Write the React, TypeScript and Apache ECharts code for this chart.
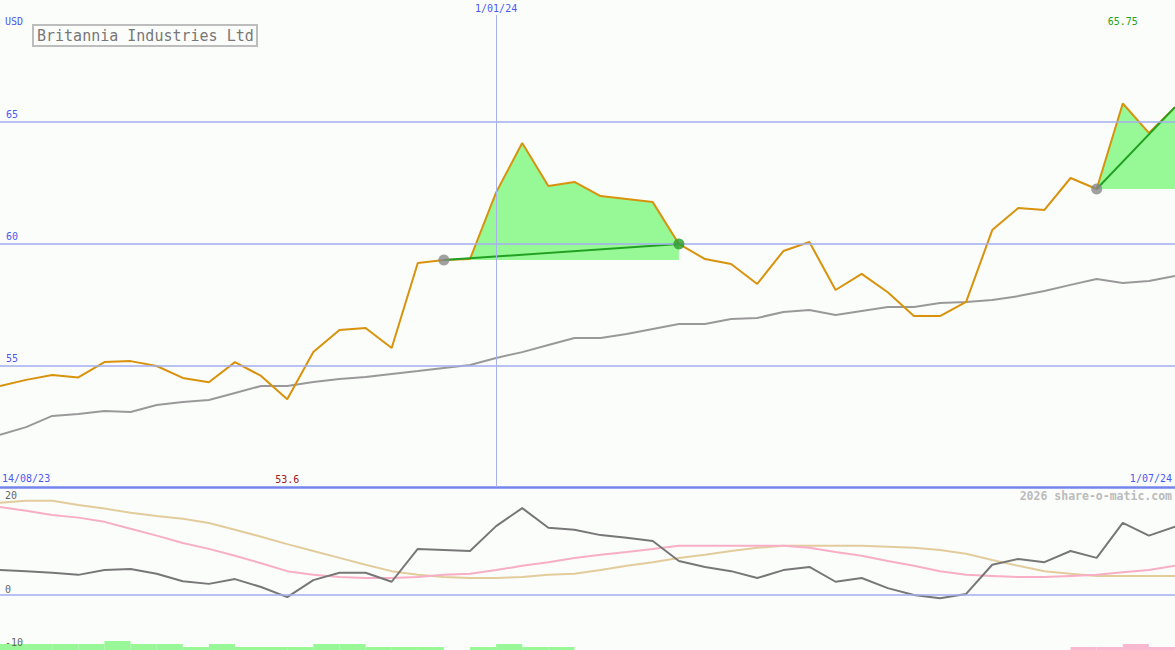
import React, { useEffect, useRef } from "react";
import * as echarts from "echarts";

const dates = [
  "21/08/23", "28/08/23", "4/09/23", "11/09/23", "18/09/23", "25/09/23", "2/10/23", "9/10/23",
  "16/10/23", "23/10/23", "30/10/23", "6/11/23", "13/11/23", "20/11/23", "27/11/23", "4/12/23",
  "11/12/23", "18/12/23", "25/12/23", "1/01/24", "8/01/24", "15/01/24", "22/01/24", "29/01/24",
  "5/02/24", "12/02/24", "19/02/24", "26/02/24", "4/03/24", "11/03/24", "18/03/24", "25/03/24",
  "1/04/24", "8/04/24", "15/04/24", "22/04/24", "29/04/24", "6/05/24", "13/05/24", "20/05/24",
  "27/05/24", "3/06/24", "10/06/24", "17/06/24", "24/06/24", "1/07/24",
];

const price = [
  54.15, 54.4, 54.6, 54.5, 55.13, 55.17, 54.97, 54.48, 54.3, 55.13, 54.56, 53.6, 55.54, 56.45, 56.53, 55.71,
  59.2, 59.32, 59.36, 62.1, 64.13, 62.36, 62.53, 61.95, 61.83, 61.7, 59.98, 59.36, 59.16, 58.34, 59.69, 60.06,
  58.09, 58.75, 58.0, 57.02, 57.02, 57.6, 60.55, 61.46, 61.38, 62.69, 62.24, 65.75, 64.54, 65.6,
];

const priceMA = [
  52.14, 52.46, 52.92, 53.0, 53.12, 53.08, 53.37, 53.49, 53.57, 53.86, 54.15, 54.15, 54.31, 54.44, 54.52, 54.64,
  54.76, 54.89, 55.01, 55.3, 55.54, 55.83, 56.12, 56.12, 56.28, 56.49, 56.69, 56.69, 56.9, 56.94, 57.19, 57.27,
  57.06, 57.23, 57.39, 57.39, 57.56, 57.6, 57.68, 57.84, 58.05, 58.3, 58.54, 58.38, 58.46, 58.67,
];

const oscGray = [
  4.7, 4.5, 4.2, 3.8, 4.7, 4.9, 4.0, 2.6, 2.1, 3.0, 1.5, -0.4, 2.8, 4.2, 4.2, 2.5,
  8.7, 8.5, 8.3, 13.0, 16.4, 12.7, 12.3, 11.3, 10.8, 10.2, 6.4, 5.3, 4.5, 3.2, 4.7, 5.3,
  2.5, 3.2, 1.3, 0.0, -0.6, 0.2, 5.7, 6.8, 6.2, 8.3, 7.0, 13.6, 11.2, 12.9,
];

const oscPink = [
  16.6, 15.9, 15.1, 14.6, 13.8, 12.5, 11.2, 9.8, 8.7, 7.4, 6.0, 4.5, 3.8, 3.4, 3.2, 3.2,
  3.4, 3.8, 4.0, 4.7, 5.5, 6.2, 7.0, 7.6, 8.1, 8.7, 9.3, 9.3, 9.3, 9.3, 9.3, 8.9,
  8.1, 7.4, 6.4, 5.5, 4.5, 3.8, 3.6, 3.4, 3.4, 3.6, 3.8, 4.3, 4.7, 5.5,
];

const oscTan = [
  17.4, 17.8, 17.8, 17.0, 16.3, 15.5, 14.9, 14.4, 13.6, 12.3, 11.0, 9.6, 8.3, 7.0, 5.7, 4.5,
  3.8, 3.4, 3.2, 3.2, 3.4, 3.8, 4.0, 4.7, 5.5, 6.2, 7.0, 7.6, 8.3, 8.9, 9.3, 9.3,
  9.3, 9.3, 9.1, 8.9, 8.5, 7.8, 6.6, 5.5, 4.5, 4.0, 3.6, 3.6, 3.6, 3.6,
];

// one bar per week interval (45 bands)
const barGreen = [
  2, 2, 2, 2, 3, 2, 2, 1, 2, 1, 1, 1, 2, 2, 1, 1, 1, null, 1, 2, 1, 1,
  null, null, null, null, null, null, null, null, null, null, null, null, null, null, null, null,
  null, null, null, null, null, null, null,
];
const barPink = [
  null, null, null, null, null, null, null, null, null, null, null, null, null, null, null, null,
  null, null, null, null, null, null, null, null, null, null, null, null, null, null, null, null,
  null, null, null, null, null, null, null, null, null, 1, 1, 2, 1,
];

const trades = [
  { from: 17, to: 26, closed: true },
  { from: 42, to: 45, closed: false },
];

const mainGridValues = [55, 60, 65];
const lowerLabelValues = [0, -10];
const yearMarkIndex = 19;

const FONT = "DejaVu Sans Mono";
const BLUE_TXT = "#4a5af0";
const GRID_BLUE = "#a3adf0";

export default function App() {
  const ref = useRef<HTMLDivElement>(null);

  useEffect(() => {
    if (!ref.current) return;
    const chart = echarts.init(ref.current, undefined, { renderer: "svg" });

    const n = price.length;
    const minIdx = price.indexOf(Math.min(...price));
    const maxIdx = price.indexOf(Math.max(...price));

    const tradeSeries: any[] = [];
    trades.forEach((t, k) => {
      const base = price[t.from];
      const baseData = price.map((_, i) => (i >= t.from && i <= t.to ? base : null));
      const diffData = price.map((p, i) => (i >= t.from && i <= t.to ? Math.max(p - base, 0) : null));
      tradeSeries.push({
        type: "line",
        xAxisIndex: 0,
        yAxisIndex: 0,
        stack: "trade" + k,
        data: baseData,
        symbol: "none",
        lineStyle: { width: 0, opacity: 0 },
        silent: true,
      });
      tradeSeries.push({
        type: "line",
        xAxisIndex: 0,
        yAxisIndex: 0,
        stack: "trade" + k,
        data: diffData,
        symbol: "none",
        lineStyle: { width: 0, opacity: 0 },
        areaStyle: { color: "#96f996", opacity: 1 },
        silent: true,
      });
    });

    const trendSeries = trades.map((t) => ({
      type: "line",
      xAxisIndex: 0,
      yAxisIndex: 0,
      data: price.map((p, i) => (i === t.from || i === t.to ? p : null)),
      connectNulls: true,
      symbol: "none",
      lineStyle: { color: "#22a022", width: 2 },
      z: 4,
    }));

    const option: any = {
      animation: false,
      backgroundColor: "#fbfdfb",
      title: {
        text: "Britannia Industries Ltd",
        left: 33,
        top: 25,
        padding: [3, 4, 3, 4],
        borderColor: "#bdbdbd",
        borderWidth: 2,
        textStyle: { fontFamily: FONT, fontSize: 15, fontWeight: "normal", color: "#777" },
      },
      grid: [
        { left: 0, right: 0, top: 0, height: 487 },
        { left: 0, right: 0, top: 489, height: 159 },
        { left: 0, right: 0, top: 638, height: 12 },
      ],
      xAxis: [
        { type: "category", gridIndex: 0, data: dates, boundaryGap: false, show: false },
        { type: "category", gridIndex: 1, data: dates, boundaryGap: false, show: false },
        { type: "category", gridIndex: 2, data: dates.slice(0, n - 1), boundaryGap: true, show: false },
      ],
      yAxis: [
        {
          type: "value",
          gridIndex: 0,
          min: 50,
          max: 70,
          interval: 5,
          axisLine: { show: false },
          axisTick: { show: false },
          splitLine: { show: false },
          axisLabel: {
            inside: true,
            margin: 6,
            verticalAlign: "bottom",
            padding: [0, 0, 2, 0],
            color: BLUE_TXT,
            fontFamily: FONT,
            fontSize: 10,
            formatter: (v: number) => (mainGridValues.includes(v) ? String(v) : ""),
          },
        },
        {
          type: "value",
          gridIndex: 1,
          min: -10,
          max: 20,
          interval: 10,
          z: 10,
          axisLine: { show: false },
          axisTick: { show: false },
          splitLine: { show: false },
          axisLabel: {
            inside: true,
            margin: 5,
            verticalAlign: "bottom",
            padding: [0, 0, 1, 0],
            color: "#666",
            fontFamily: FONT,
            fontSize: 10,
            formatter: (v: number) => (lowerLabelValues.includes(v) ? String(v) : ""),
          },
        },
        { type: "value", gridIndex: 2, min: 0, max: 4, show: false },
      ],
      graphic: [
        { type: "text", left: 5, top: 16, style: { text: "USD", fill: BLUE_TXT, font: `10px '${FONT}'` } },
        { type: "text", left: 2, top: 473, style: { text: "14/08/23", fill: BLUE_TXT, font: `10px '${FONT}'` } },
        { type: "text", right: 3, top: 473, style: { text: "1/07/24", fill: BLUE_TXT, font: `10px '${FONT}'` } },
        { type: "text", left: 5, top: 490, style: { text: "20", fill: "#666", font: `10px '${FONT}'` } },
        {
          type: "text",
          right: 3,
          top: 490,
          style: { text: "2026 share-o-matic.com", fill: "#bbbbbb", font: `bold 11.5px '${FONT}'` },
        },
      ],
      series: [
        {
          type: "line",
          xAxisIndex: 0,
          yAxisIndex: 0,
          data: priceMA,
          symbol: "none",
          lineStyle: { color: "#999", width: 2 },
          markLine: {
            silent: true,
            symbol: ["none", "none"],
            animation: false,
            data: [
              ...mainGridValues.map((v) => ({
                yAxis: v,
                lineStyle: { color: GRID_BLUE, width: 1.5, type: "solid" },
                label: { show: false },
              })),
              {
                yAxis: 50,
                lineStyle: { color: "#7585ee", width: 2.5, type: "solid" },
                label: { show: false },
              },
            ],
          },
          z: 1,
        },
        ...tradeSeries,
        {
          type: "line",
          xAxisIndex: 0,
          yAxisIndex: 0,
          data: price,
          symbol: "none",
          lineStyle: { color: "#d8920c", width: 2 },
          z: 3,
          markLine: {
            silent: true,
            symbol: ["none", "none"],
            animation: false,
            data: [
              [
                {
                  coord: [yearMarkIndex, 69.38],
                  lineStyle: { color: "#a8b0ee", width: 1, type: "solid" },
                  label: {
                    show: true,
                    position: "start",
                    formatter: dates[yearMarkIndex],
                    color: BLUE_TXT,
                    fontFamily: FONT,
                    fontSize: 10,
                    distance: 2,
                  },
                },
                { coord: [yearMarkIndex, 50] },
              ],
            ],
          },
          markPoint: {
            silent: true,
            symbol: "circle",
            symbolSize: 0,
            data: [
              {
                coord: [minIdx, 50],
                value: price[minIdx],
                label: {
                  show: true,
                  position: "top",
                  distance: 3,
                  formatter: String(price[minIdx]),
                  color: "#a02020",
                  fontFamily: FONT,
                  fontSize: 10,
                },
              },
              {
                coord: [maxIdx, 70],
                value: price[maxIdx],
                label: {
                  show: true,
                  position: "bottom",
                  distance: 16,
                  formatter: String(price[maxIdx]),
                  color: "#22a022",
                  fontFamily: FONT,
                  fontSize: 10,
                },
              },
            ],
          },
        },
        ...trendSeries,
        {
          type: "scatter",
          xAxisIndex: 0,
          yAxisIndex: 0,
          data: trades.map((t) => [t.from, price[t.from]]),
          symbol: "circle",
          symbolSize: 11,
          itemStyle: { color: "#888" },
          z: 5,
        },
        {
          type: "scatter",
          xAxisIndex: 0,
          yAxisIndex: 0,
          data: trades.filter((t) => t.closed).map((t) => [t.to, price[t.to]]),
          symbol: "circle",
          symbolSize: 11,
          itemStyle: { color: "#2a9a2a" },
          z: 5,
        },
        {
          type: "line",
          xAxisIndex: 1,
          yAxisIndex: 1,
          data: oscTan,
          symbol: "none",
          lineStyle: { color: "#e2cc9c", width: 2 },
          markLine: {
            silent: true,
            symbol: ["none", "none"],
            animation: false,
            data: [
              { yAxis: 0, lineStyle: { color: GRID_BLUE, width: 1.5, type: "solid" }, label: { show: false } },
              [
                { coord: [yearMarkIndex, 20], lineStyle: { color: "#a8b0ee", width: 1, type: "solid" }, label: { show: false } },
                { coord: [yearMarkIndex, -10.4] },
              ],
            ],
          },
        },
        {
          type: "line",
          xAxisIndex: 1,
          yAxisIndex: 1,
          data: oscPink,
          symbol: "none",
          lineStyle: { color: "#f7aec6", width: 2 },
        },
        {
          type: "line",
          xAxisIndex: 1,
          yAxisIndex: 1,
          data: oscGray,
          symbol: "none",
          lineStyle: { color: "#777", width: 2 },
        },
        {
          type: "bar",
          xAxisIndex: 2,
          yAxisIndex: 2,
          data: barGreen,
          barWidth: "100%",
          barGap: "-100%",
          itemStyle: { color: "#98f898" },
          silent: true,
          z: 0,
        },
        {
          type: "bar",
          xAxisIndex: 2,
          yAxisIndex: 2,
          data: barPink,
          barWidth: "100%",
          barGap: "-100%",
          itemStyle: { color: "#f8b8d0" },
          silent: true,
          z: 0,
        },
      ],
    };

    chart.setOption(option);
    return () => chart.dispose();
  }, []);

  return (
    <div
      ref={ref}
      style={{ position: "fixed", left: 0, top: 0, width: 1175, height: 650 }}
    />
  );
}
